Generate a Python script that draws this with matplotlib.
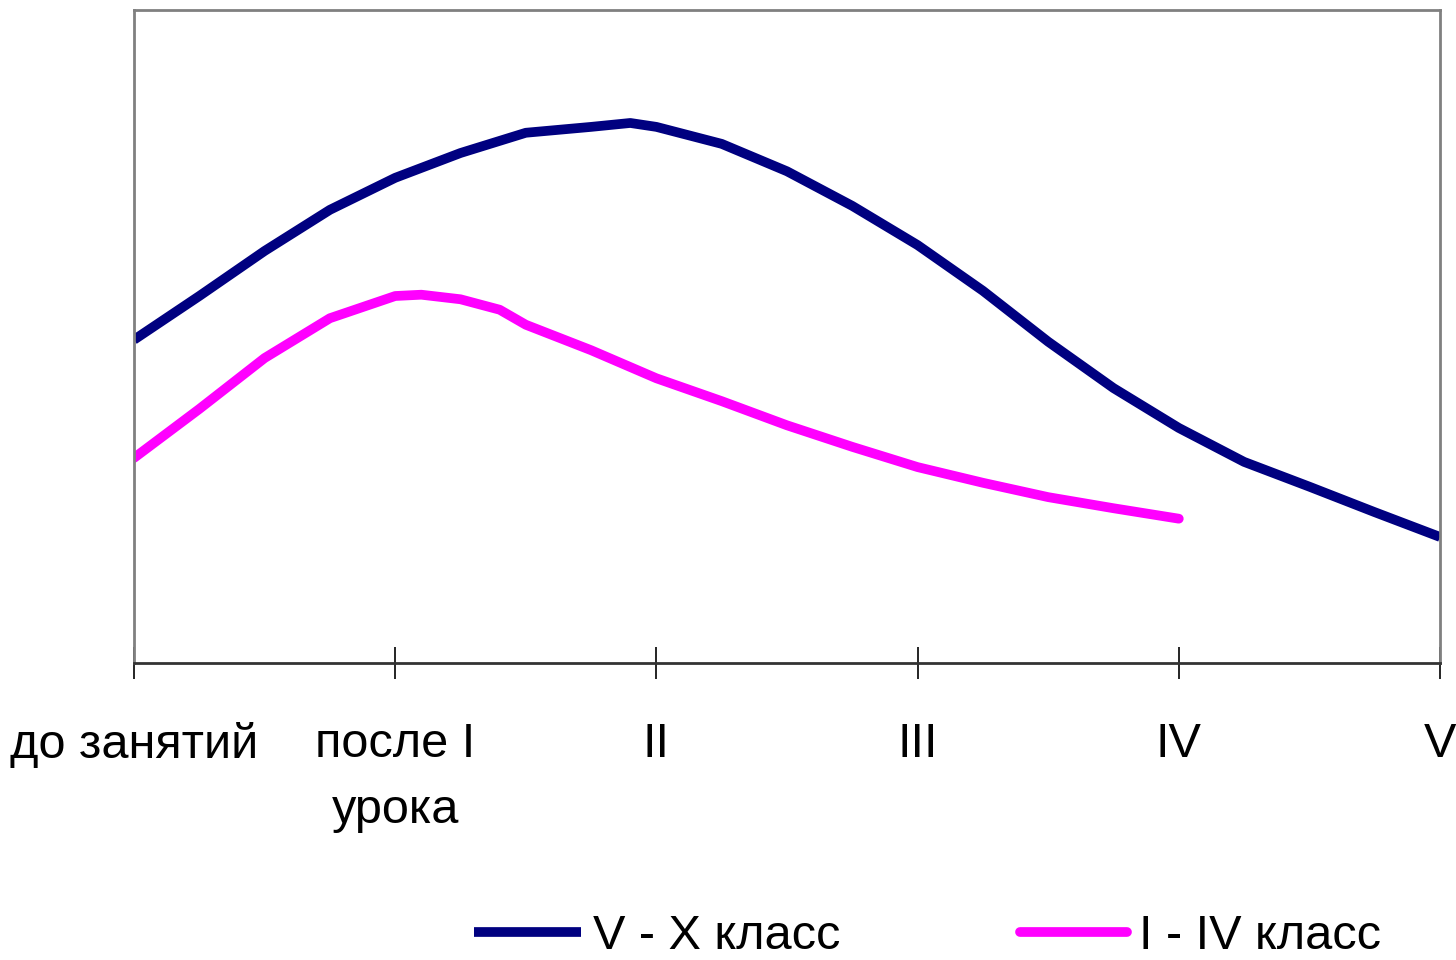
import numpy as np
import matplotlib.pyplot as plt

plt.rcParams['font.family'] = ['Liberation Sans', 'DejaVu Sans']

categories = ['до занятий', 'после I\nурока', 'II', 'III', 'IV', 'V']

# x in lesson units, y in relative units (no y scale in the original)
x_senior = [0, 0.25, 0.5, 0.75, 1.0, 1.25, 1.5, 1.75, 1.9, 2.0, 2.25, 2.5,
            2.75, 3.0, 3.25, 3.5, 3.75, 4.0, 4.25, 4.5, 4.75, 5.0]
y_senior = [49.5, 56.2, 63.1, 69.4, 74.3, 78.1, 81.2, 82.1, 82.7, 82.1, 79.5, 75.3,
            70.0, 64.0, 57.0, 49.2, 42.1, 36.0, 30.8, 27.0, 23.1, 19.3]

x_junior = [0, 0.25, 0.5, 0.75, 1.0, 1.1, 1.25, 1.4, 1.5, 1.75, 2.0, 2.25,
            2.5, 2.75, 3.0, 3.25, 3.5, 3.75, 4.0]
y_junior = [31.4, 38.9, 46.7, 52.8, 56.2, 56.4, 55.7, 54.1, 51.8, 47.9, 43.6, 40.1,
            36.4, 33.1, 30.0, 27.6, 25.4, 23.7, 22.1]

fig = plt.figure(figsize=(14.56, 9.6), dpi=100)
ax = fig.add_axes([134/1456, 1-663/960, (1440-134)/1456, (663-10)/960])

ax.plot(x_senior, y_senior, color='#000080', lw=7, label='V - X класс',
        solid_joinstyle='round', solid_capstyle='butt')
ax.plot(x_junior, y_junior, color='#FF00FF', lw=7, label='I - IV класс',
        solid_joinstyle='round', solid_capstyle='round')

ax.set_xlim(0, 5)
ax.set_ylim(0, 100)
ax.set_yticks([])
ax.set_xticks(range(len(categories)))
ax.set_xticklabels(categories, fontsize=35, linespacing=1.6)
ax.tick_params(axis='x', direction='inout', length=23, width=1.2,
               color='black', pad=31)

for s in ['left', 'top', 'right']:
    ax.spines[s].set_color('#808080')
    ax.spines[s].set_linewidth(2)
ax.spines['bottom'].set_color('#333333')
ax.spines['bottom'].set_linewidth(2)

fig.legend(loc='lower center', ncol=2, frameon=False, fontsize=35,
           handlelength=2.2, handletextpad=0.25, columnspacing=3.7,
           bbox_to_anchor=(0.637, -0.045))

fig.savefig('out.png', dpi=100)
